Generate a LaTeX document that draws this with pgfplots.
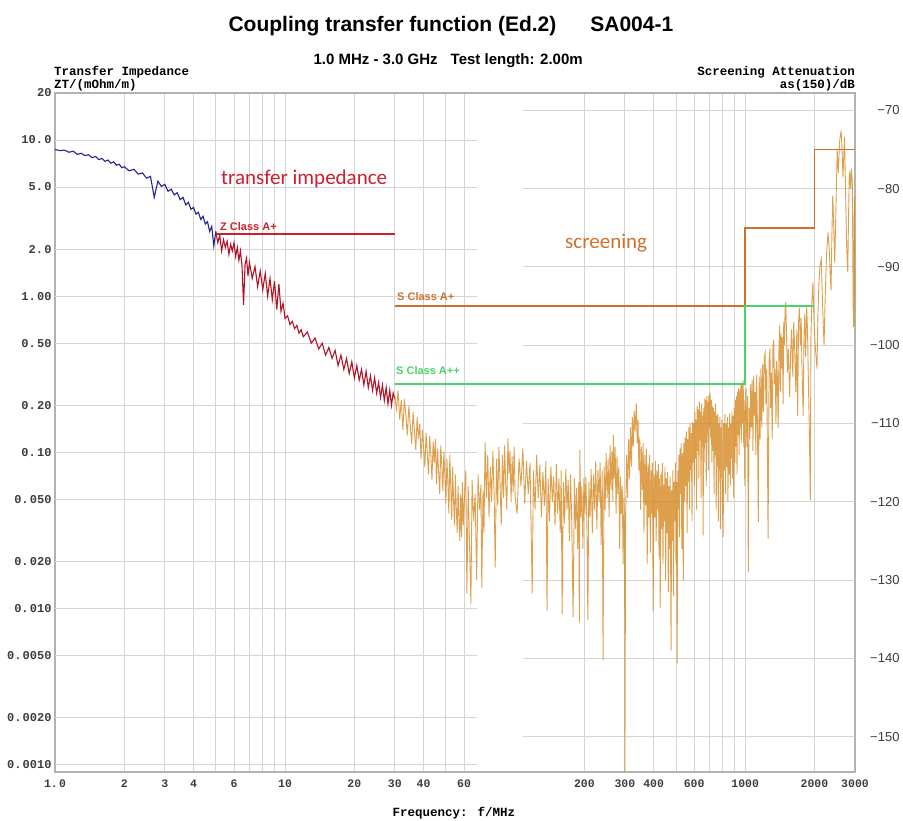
\documentclass[border=0pt]{standalone}
\usepackage{pgfplots}
\pgfplotsset{compat=1.18}
\usepackage{fontspec}
\setmainfont{Liberation Sans}
\newfontfamily\monofont{Liberation Mono}
\newfontfamily\calfont{Carlito}

\definecolor{ztblue}{RGB}{35,35,145}
\definecolor{ztred}{RGB}{175,20,40}
\definecolor{zlim}{RGB}{205,30,45}
\definecolor{saorange}{RGB}{214,136,32}
\definecolor{slimA}{RGB}{208,112,44}
\definecolor{slimAA}{RGB}{72,210,104}
\definecolor{gridc}{RGB}{212,212,212}
\definecolor{framec}{RGB}{178,178,178}
\definecolor{tickc}{RGB}{60,60,60}

\newcommand{\dt}{.\kern1.2pt}

\begin{document}
\begin{tikzpicture}[x=1pt,y=1pt]
\useasboundingbox (0,0) rectangle (903,820);

% left axis: transfer impedance
\begin{axis}[
  at={(55pt,48pt)}, anchor=south west,
  width=800pt, height=679pt, scale only axis,
  xmode=log, ymode=log,
  xmin=1, xmax=3000, ymin=0.0009, ymax=20,
  axis line style={draw=framec, line width=1.2pt},
  major tick length=0pt, minor tick length=0pt,
  xtick={1,2,3,4,5,6,7,8,9,10,20,30,40,50,60,200,300,400,500,600,700,800,900,1000,2000,3000},
  xticklabels={1\dt0,2,3,4,{},6,{},{},{},10,20,30,40,{},60,200,300,400,{},600,{},{},{},1000,2000,3000},
  xmajorgrids, major grid style={draw=gridc, line width=0.9pt},
  ytick={0.001,0.002,0.005,0.01,0.02,0.05,0.1,0.2,0.5,1,2,5,10,20},
  yticklabels={0\dt0010,0\dt0020,0\dt0050,0\dt010,0\dt020,0\dt050,0\dt10,0\dt20,0\dt50,1\dt00,2\dt0,5\dt0,10\dt0,20},
  xticklabel style={font=\monofont\bfseries\fontsize{11.5}{12}\selectfont, text=tickc, yshift=-4pt},
  yticklabel style={font=\monofont\bfseries\fontsize{12}{13}\selectfont, text=tickc},
]
\pgfplotsinvokeforeach{0.001,0.002,0.005,0.01,0.02,0.05,0.1,0.2,0.5,1,2,5,10}{
  \draw[gridc, line width=0.9pt] (axis cs:1,#1) -- (axis cs:68,#1);
}
% ZT 1-5 MHz
\addplot[ztblue, line width=1.1pt] coordinates {
(1.00,8.70)(1.05,8.55)(1.10,8.62)(1.15,8.35)(1.20,8.48)(1.25,8.10)(1.30,8.22)(1.35,7.95)(1.40,8.05)(1.45,7.70)
(1.50,7.85)(1.55,7.50)(1.60,7.62)(1.65,7.30)(1.70,7.45)(1.75,7.10)(1.80,7.25)(1.85,6.90)(1.90,7.00)(1.95,6.65)
(2.00,6.75)(2.10,6.35)(2.20,6.50)(2.30,6.05)(2.40,6.15)(2.50,5.70)(2.60,5.85)(2.70,4.30)(2.80,5.45)(2.90,5.05)
(3.00,5.20)(3.10,4.70)(3.20,4.85)(3.30,4.45)(3.40,4.60)(3.50,4.15)(3.60,4.30)(3.70,3.85)(3.80,4.00)(3.90,3.60)
(4.00,3.70)(4.10,3.35)(4.20,3.45)(4.30,3.10)(4.40,3.25)(4.50,2.90)(4.60,3.00)(4.70,2.60)(4.80,2.80)(4.90,2.10)(5.00,2.60)
};
% ZT 5-30 MHz
\addplot[ztred, line width=1.1pt] coordinates {
(5.00,2.60)(5.10,2.20)(5.20,2.45)(5.30,1.95)(5.40,2.30)(5.50,2.05)(5.60,2.25)(5.70,1.85)(5.80,2.15)(5.90,1.95)
(6.00,2.20)(6.10,1.80)(6.20,2.05)(6.30,1.70)(6.40,1.95)(6.50,1.55)(6.60,0.88)(6.70,1.60)(6.80,1.75)(6.90,1.35)
(7.00,1.65)(7.20,1.30)(7.40,1.55)(7.60,1.15)(7.80,1.45)(8.00,1.10)(8.20,1.40)(8.40,1.00)(8.60,1.30)(8.80,0.95)
(9.00,1.25)(9.20,0.82)(9.40,1.20)(9.60,0.80)(9.80,0.90)(10.0,0.72)(10.25,0.75)(10.5,0.66)(10.75,0.69)(11.0,0.62)
(11.25,0.65)(11.5,0.58)(11.75,0.61)(12.0,0.55)(12.5,0.59)(13.0,0.50)(13.5,0.54)(14.0,0.46)(14.5,0.50)(15.0,0.42)
(15.5,0.47)(16.0,0.40)(16.5,0.45)(17.0,0.36)(17.5,0.42)(18.0,0.34)(18.5,0.40)(19.0,0.32)(19.5,0.38)(20.0,0.30)
(20.5,0.36)(21.0,0.29)(21.5,0.34)(22.0,0.27)(22.5,0.33)(23.0,0.26)(23.5,0.31)(24.0,0.25)(24.5,0.30)(25.0,0.24)
(25.5,0.28)(26.0,0.225)(26.5,0.27)(27.0,0.215)(27.5,0.26)(28.0,0.205)(28.5,0.25)(29.0,0.20)(29.5,0.24)(30.0,0.22)
};
% Z Class A+
\addplot[zlim, line width=1.6pt] coordinates {(5,2.5)(30,2.5)};
\end{axis}

% right axis: screening attenuation
\begin{axis}[
  at={(55pt,48pt)}, anchor=south west,
  width=800pt, height=679pt, scale only axis,
  xmode=log, xmin=1, xmax=3000,
  ymin=-154.5, ymax=-67.8,
  hide x axis, axis y line*=right,
  axis line style={draw=framec, line width=1.2pt},
  major tick length=0pt,
  ytick={-150,-140,-130,-120,-110,-100,-90,-80,-70},
  yticklabels={−150,−140,−130,−120,−110,−100,−90,−80,−70},
  yticklabel style={anchor=east, xshift=48pt, font=\fontsize{13}{14}\selectfont, text=tickc},
]
\pgfplotsinvokeforeach{-150,-140,-130,-120,-110,-100,-90,-80,-70}{
  \draw[gridc, line width=0.9pt] (axis cs:108,#1) -- (axis cs:3000,#1);
}
\addplot[saorange, line width=0.9pt, draw opacity=0.8] coordinates {
(30,-106.5)(30.5,-108.2)(31,-105.8)(31.5,-109.5)(32,-107.0)(32.5,-110.8)(33,-106.9)(33.5,-109.0)(34,-111.5)(34.5,-107.8)
(35,-110.2)(35.5,-112.6)(36,-108.5)(36.5,-111.0)(37,-113.4)(37.5,-109.2)(38,-112.0)(38.5,-110.0)(39,-114.5)(39.5,-110.8)
(40,-113.0)(40.5,-115.6)(41,-111.2)(41.5,-113.8)(42,-116.5)(42.5,-111.6)(43,-114.0)(43.5,-117.2)(44,-112.3)(44.5,-115.0)
(45,-112.0)(45.5,-117.8)(46,-113.2)(46.5,-116.3)(47,-119.0)(47.5,-112.8)(48,-115.5)(48.5,-118.6)(49,-113.6)(49.5,-116.8)
(50,-120.2)(50.5,-114.5)(51,-117.5)(51.5,-121.5)(52,-114.0)(52.5,-118.0)(53,-122.3)(53.5,-115.5)(54,-120.0)(54.5,-123.0)
(55,-116.5)(55.5,-121.0)(56,-124.0)(56.5,-118.0)(57,-122.0)(57.5,-125.0)(58,-119.0)(58.5,-124.5)(59,-117.5)(59.5,-123.0)
(60,-120.5)(61,-116.0)(61.7,-131.7)(62.5,-118.0)(63.2,-124.0)(64.2,-133.0)(65,-117.2)(66,-122.5)(67,-119.0)(68,-130.0)
(69,-116.5)(70,-121.0)(71,-117.8)(71.6,-131.0)(72.5,-118.5)(73.2,-124.0)(74,-112.4)(75,-119.5)(76,-114.0)(77,-122.0)
(78,-115.5)(79,-120.0)(80,-113.5)(81,-119.0)(81.9,-128.4)(83,-114.5)(84,-120.5)(85,-113.0)(86,-117.8)(87,-123.0)
(88,-114.0)(89,-119.5)(90,-112.8)(91,-118.0)(92,-121.0)(93,-111.9)(94,-116.5)(95,-113.5)(96,-120.0)(97,-114.2)
(98,-118.8)(99,-113.0)(100,-119.5)(102,-121.5)(104,-114.5)(106,-118.0)(108,-113.2)(110,-120.2)(112,-114.8)(114,-119.0)
(116,-115.0)(118.6,-131.7)(120,-116.0)(122,-121.0)(124,-114.0)(126,-119.6)(128,-115.3)(130,-122.0)(132,-116.2)(134,-120.5)
(136,-114.8)(137.6,-133.9)(139,-117.0)(141,-122.5)(143,-115.5)(145,-120.0)(147,-116.8)(149,-123.0)(151,-115.2)(153,-121.5)
(155,-117.0)(157,-124.0)(158.5,-116.0)(160,-134.3)(162,-117.5)(164,-122.8)(166,-115.8)(168,-121.0)(170,-117.2)(172,-125.0)
(174,-116.5)(176,-121.8)(178.6,-134.7)(181,-117.0)(183,-123.5)(185,-118.2)(187,-126.0)(189,-117.5)(190,-135.5)(191,-113.4)
(193,-122.0)(195,-118.0)(197,-126.0)(199,-117.0)(201,-121.5)(203,-116.8)(205,-123.0)(207,-135.1)(209,-117.5)(211.5,-122.0)
(214,-115.8)(216.5,-124.0)(219,-116.5)(221.5,-121.0)(224,-114.8)(226.5,-123.5)(229,-116.0)(231.5,-120.0)(234,-115.0)(236.5,-125.5)
(239,-116.0)(241,-140.2)(243.5,-115.5)(246,-121.0)(248.5,-113.8)(251,-119.5)(253.5,-114.5)(256,-122.0)(258.5,-112.8)(261,-118.5)
(263.5,-113.5)(266,-120.0)(267,-111.5)(269.5,-117.0)(272,-113.0)(274.5,-121.5)(277,-114.2)(279.5,-119.0)(282,-115.5)(284.5,-126.0)
(287,-116.8)(289.5,-121.5)(292,-118.0)(294.5,-128.0)(297,-119.5)(299,-125.0)(300,-154.7)(302,-122.0)(305,-114.0)(308,-119.5)
(311,-112.0)(314,-117.0)(317,-110.5)(320,-115.5)(323,-109.2)(326,-113.0)(329,-108.4)(332,-111.0)(336,-107.4)(339,-112.5)
(342,-109.5)(345,-116.0)(348,-111.8)(351,-121.0)(354,-113.0)(357,-118.5)(360,-112.5)(363,-124.0)(366,-114.0)(369,-120.5)
(372,-113.2)(375,-128.0)(378,-115.0)(381,-122.0)(384,-114.0)(387,-126.5)(390,-116.0)(393,-121.5)(395,-115.0)(398,-134.0)
(401,-116.5)(404,-122.0)(407,-114.8)(410,-125.0)(413,-116.0)(416,-121.0)(419,-115.2)(422,-127.0)(424,-117.0)(427,-133.6)
(430,-116.5)(433,-123.5)(436,-115.0)(439,-128.0)(442,-117.8)(445,-122.5)(448,-115.5)(451,-130.0)(454,-117.0)(457,-124.0)
(460,-116.2)(463,-131.5)(466,-118.0)(469,-126.0)(472,-116.8)(476,-139.0)(479,-118.5)(482,-125.0)(485,-116.0)(488,-132.0)
(491,-117.5)(494,-122.5)(497,-115.0)(500,-128.0)(503,-117.5)(506,-140.6)(509,-116.0)(512,-121.0)(515,-114.0)(518,-124.5)
(521,-113.2)(524,-119.0)(527,-112.5)(530,-126.0)(534,-113.8)(538,-130.0)(541,-112.5)(545,-120.0)(548,-111.8)(552,-118.0)
(555,-111.0)(559,-124.0)(562,-112.0)(566,-117.5)(569,-110.5)(573,-121.0)(576,-110.0)(580,-116.0)(583,-111.2)(587,-122.5)
(590,-109.8)(594,-115.0)(597,-110.0)(601,-118.0)(604,-108.5)(608,-114.5)(611,-109.5)(615,-121.0)(618,-107.8)(622,-113.5)
(625,-108.2)(629,-117.0)(632,-107.2)(636,-112.0)(639,-108.5)(643,-119.5)(646,-107.5)(650,-113.0)(653,-109.0)(656,-124.3)
(660,-108.0)(663,-115.0)(667,-106.8)(670,-112.5)(674,-107.0)(677,-118.0)(681,-106.5)(684,-111.5)(688,-107.2)(691,-116.0)
(695,-106.4)(698,-110.5)(701,-107.0)(704,-106.1)(708,-112.0)(712,-107.0)(716,-115.0)(720,-107.8)(724,-113.5)(728,-108.0)
(732,-119.0)(736,-108.5)(740,-114.0)(744,-107.5)(748,-121.0)(752,-109.0)(756,-115.5)(760,-108.8)(764,-122.5)(768,-110.0)
(772,-116.0)(776,-109.2)(780,-123.5)(784,-110.5)(788,-117.0)(792,-109.5)(796,-120.0)(802,-124.5)(806,-110.0)(811,-116.0)
(816,-108.8)(821,-119.0)(826,-110.0)(831,-115.5)(836,-109.2)(841,-120.0)(846,-110.5)(851,-116.5)(856,-108.7)(861,-118.0)
(866,-110.0)(871,-114.5)(876,-108.5)(881,-117.0)(886,-109.0)(891,-119.5)(896,-108.0)(901,-115.0)(906,-107.0)(911,-113.0)
(916,-106.5)(921,-116.5)(926,-106.0)(931,-111.5)(936,-105.5)(941,-114.0)(946,-105.8)(951,-110.5)(956,-105.0)(961,-112.5)
(966,-104.8)(971,-110.0)(976,-105.2)(980,-104.5)(985,-113.0)(990,-107.0)(995,-118.0)(1000,-110.0)(1008,-105.5)(1016,-113.0)
(1024,-106.5)(1031,-129.0)(1040,-108.0)(1048,-112.0)(1056,-105.0)(1064,-110.5)(1072,-104.5)(1080,-113.5)(1088,-104.0)(1096,-109.0)
(1104,-106.0)(1112,-114.0)(1120,-103.8)(1130,-110.0)(1140,-122.6)(1150,-104.0)(1160,-112.0)(1170,-103.0)(1180,-110.5)(1190,-102.5)
(1200,-108.5)(1210,-101.5)(1220,-101.0)(1230,-107.5)(1240,-103.0)(1257,-124.7)(1270,-102.0)(1280,-100.4)(1290,-108.0)(1300,-103.5)
(1310,-112.0)(1320,-100.0)(1330,-99.3)(1340,-105.0)(1350,-103.0)(1360,-110.0)(1370,-102.0)(1380,-104.5)(1391,-110.6)(1400,-101.0)
(1410,-97.5)(1420,-106.0)(1430,-98.5)(1440,-103.0)(1450,-99.0)(1460,-107.5)(1470,-97.0)(1480,-100.0)(1490,-95.5)(1500,-94.5)
(1510,-98.0)(1525,-103.5)(1540,-100.5)(1560,-106.6)(1575,-101.0)(1590,-98.0)(1610,-104.0)(1625,-97.0)(1640,-100.5)(1660,-106.0)
(1675,-98.0)(1690,-109.0)(1705,-97.0)(1720,-95.2)(1735,-100.0)(1750,-96.5)(1765,-103.0)(1786,-109.0)(1800,-99.0)(1815,-96.0)
(1830,-101.5)(1850,-95.2)(1865,-98.0)(1880,-104.0)(1900,-111.0)(1918,-119.8)(1930,-99.0)(1945,-95.0)(1960,-93.0)(1970,-92.0)
(1985,-96.0)(2000,-98.5)(2020,-100.5)(2050,-103.0)(2070,-96.0)(2090,-92.0)(2110,-90.0)(2140,-89.0)(2160,-93.0)(2180,-97.0)
(2200,-100.0)(2230,-93.0)(2260,-88.0)(2290,-85.6)(2320,-88.0)(2340,-91.0)(2360,-93.0)(2380,-86.0)(2400,-80.9)(2420,-84.0)
(2450,-89.5)(2480,-82.0)(2510,-75.1)(2540,-78.0)(2570,-74.0)(2610,-72.6)(2630,-74.5)(2660,-78.6)(2680,-76.0)(2700,-73.4)
(2720,-78.0)(2740,-83.0)(2760,-87.5)(2790,-90.7)(2810,-84.0)(2830,-79.0)(2850,-77.7)(2870,-80.0)(2900,-77.5)(2920,-79.5)
(2950,-97.7)(2965,-88.0)(2980,-81.0)(3000,-97.5)
};
% S Class A+ and A++
\addplot[slimA, line width=1.6pt, const plot] coordinates {(30,-95)(1000,-85)(2000,-75)(3000,-75)};
\addplot[slimAA, line width=1.8pt, const plot] coordinates {(30,-105)(1000,-95)(2000,-95)};
\end{axis}

% titles and labels
\node[anchor=base west, font=\bfseries\fontsize{21}{24}\selectfont] at (225,788)
  {Coupling transfer function (Ed.2)\hspace{34pt}SA004-1};
\node[anchor=base west, font=\bfseries\fontsize{15}{17}\selectfont] at (310,755)
  {1.0 MHz - 3.0 GHz\hspace{13pt}Test length: 2.00m};
\node[anchor=base west, inner sep=0pt, font=\monofont\bfseries\fontsize{12.5}{13}\selectfont] at (54,744)
  {Transfer Impedance};
\node[anchor=base west, inner sep=0pt, font=\monofont\bfseries\fontsize{12.5}{13}\selectfont] at (54,731)
  {ZT/(mOhm/m)};
\node[anchor=base east, inner sep=0pt, font=\monofont\bfseries\fontsize{12.5}{13}\selectfont] at (855,744)
  {Screening Attenuation};
\node[anchor=base east, inner sep=0pt, font=\monofont\bfseries\fontsize{12.5}{13}\selectfont] at (855,731)
  {as(150)/dB};
\node[anchor=base, inner sep=0pt, font=\monofont\bfseries\fontsize{12.5}{13}\selectfont] at (454,4)
  {Frequency: f/MHz};
\node[anchor=base west, inner sep=0pt, text=zlim, font=\calfont\fontsize{21}{24}\selectfont] at (221,635)
  {transfer impedance};
\node[anchor=base west, inner sep=0pt, text=slimA, font=\calfont\fontsize{21}{24}\selectfont] at (565,571)
  {screening};
\node[anchor=base west, inner sep=0pt, text=zlim, font=\bfseries\fontsize{11}{12}\selectfont] at (220,589)
  {Z Class A+};
\node[anchor=base west, inner sep=0pt, text=slimA, font=\bfseries\fontsize{11}{12}\selectfont] at (397,519)
  {S Class A+};
\node[anchor=base west, inner sep=0pt, text=slimAA, font=\bfseries\fontsize{11}{12}\selectfont] at (396,445)
  {S Class A++};
\end{tikzpicture}
\end{document}
